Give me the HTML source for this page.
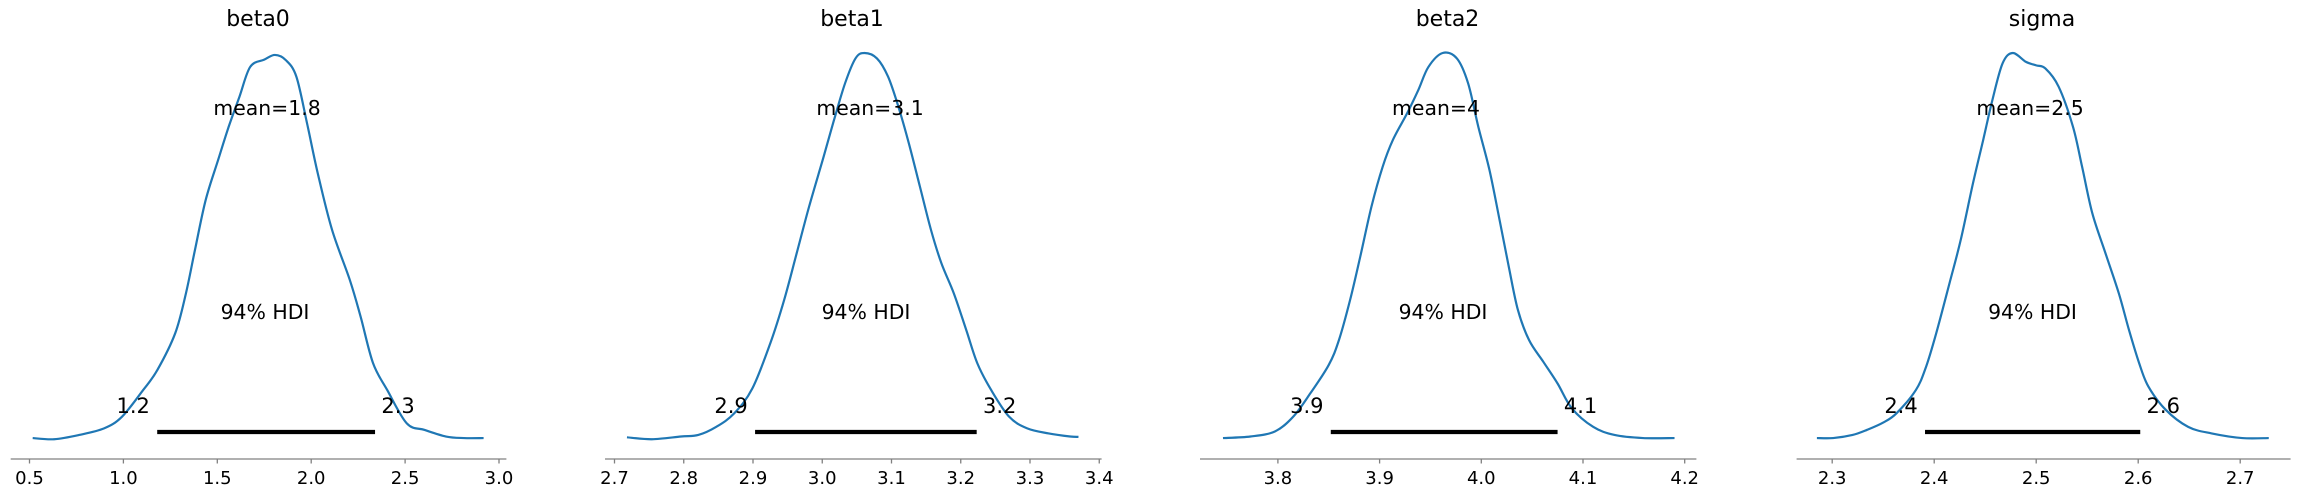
<!DOCTYPE html>
<html><head><meta charset="utf-8"><style>
html,body{margin:0;padding:0;background:#fff;}
svg{display:block;}
text{font-family:"DejaVu Sans","Liberation Sans",sans-serif;fill:#000;}
</style></head><body>
<svg id="chart" width="2301" height="497" viewBox="0 0 2301 497" xmlns="http://www.w3.org/2000/svg"></svg>
<script>
// ---- data ----
const names = ["beta0","beta1","beta2","sigma"];
const meanLabels = ["mean=1.8","mean=3.1","mean=4","mean=2.5"];
const hdiLow = [1.18, 2.903, 3.852, 2.391];
const hdiHigh = [2.34, 3.223, 4.075, 2.602];
const hdiLowLabels = ["1.2","2.9","3.9","2.4"];
const hdiHighLabels = ["2.3","3.2","4.1","2.6"];
const ticks0 = [0.5,1.0,1.5,2.0,2.5,3.0];
const ticks1 = [2.7,2.8,2.9,3.0,3.1,3.2,3.3,3.4];
const ticks2 = [3.8,3.9,4.0,4.1,4.2];
const ticks3 = [2.3,2.4,2.5,2.6,2.7];
const x0 = [0.517,0.631,0.764,0.897,0.992,1.105,1.181,1.276,1.333,1.381,1.438,1.504,1.561,1.618,1.675,1.750,1.807,1.864,1.921,1.978,2.035,2.111,2.206,2.263,2.329,2.405,2.509,2.604,2.718,2.813,2.918];
const d0 = [0.005,0.002,0.013,0.030,0.060,0.129,0.181,0.276,0.379,0.491,0.620,0.723,0.810,0.887,0.964,0.983,0.995,0.982,0.939,0.818,0.689,0.543,0.413,0.319,0.199,0.129,0.043,0.026,0.009,0.005,0.005];
const x1 = [2.718,2.754,2.796,2.821,2.847,2.873,2.899,2.925,2.945,2.963,2.981,3.002,3.017,3.033,3.048,3.061,3.079,3.095,3.110,3.125,3.141,3.157,3.172,3.190,3.208,3.224,3.244,3.270,3.296,3.327,3.358,3.370];
const d1 = [0.007,0.002,0.009,0.013,0.034,0.069,0.133,0.250,0.362,0.482,0.603,0.732,0.827,0.922,0.986,1.000,0.986,0.939,0.861,0.767,0.655,0.543,0.457,0.379,0.284,0.198,0.129,0.060,0.030,0.017,0.009,0.008];
const x2 = [3.746,3.773,3.797,3.815,3.832,3.850,3.860,3.871,3.881,3.892,3.903,3.913,3.927,3.938,3.948,3.962,3.976,3.987,3.997,4.008,4.018,4.027,4.036,4.047,4.061,4.075,4.089,4.110,4.131,4.159,4.190];
const d2 = [0.005,0.009,0.022,0.060,0.121,0.194,0.258,0.362,0.474,0.603,0.706,0.775,0.844,0.904,0.964,1.000,0.986,0.922,0.810,0.698,0.568,0.448,0.336,0.258,0.202,0.146,0.082,0.034,0.013,0.005,0.005];
const x3 = [2.285,2.301,2.320,2.334,2.350,2.363,2.382,2.392,2.402,2.415,2.426,2.438,2.448,2.457,2.467,2.477,2.490,2.500,2.509,2.522,2.536,2.545,2.555,2.568,2.581,2.591,2.601,2.610,2.627,2.649,2.672,2.702,2.728];
const d3 = [0.005,0.005,0.013,0.026,0.045,0.069,0.129,0.189,0.276,0.405,0.517,0.663,0.775,0.878,0.973,1.000,0.977,0.968,0.960,0.913,0.810,0.706,0.586,0.482,0.379,0.284,0.198,0.138,0.078,0.034,0.017,0.005,0.005];

const xs=[x0,x1,x2,x3], ds=[d0,d1,d2,d3], tickSets=[ticks0,ticks1,ticks2,ticks3];
// ---- layout (per panel) ----
const layout = [
  {ref:0.5, refPx:29.5, ppu:187.8, spineL:10.7, spineR:506.4, title:258, mean:267, hdi:265},
  {ref:2.7, refPx:614.5, ppu:692.5, spineL:605, spineR:1101.6, title:852, mean:870, hdi:866},
  {ref:3.8, refPx:1277.9, ppu:1017, spineL:1200, spineR:1696.4, title:1447.5, mean:1436, hdi:1443},
  {ref:2.3, refPx:1832.2, ppu:1020, spineL:1796.6, spineR:2290.6, title:2042, mean:2030, hdi:2032.5}
];
const Y0=440, Y1=53, SPINE=459;
const NS="http://www.w3.org/2000/svg";
const svg=document.getElementById("chart");
function mk(tag,attrs,parent){const e=document.createElementNS(NS,tag);for(const k in attrs)e.setAttribute(k,attrs[k]);(parent||svg).appendChild(e);return e;}
function txt(s,x,y,size,parent){const t=mk("text",{x:x,y:y,"text-anchor":"middle","font-size":size},parent);t.textContent=s;return t;}
function smooth(pts){
  let d="M"+pts[0][0].toFixed(2)+","+pts[0][1].toFixed(2);
  for(let i=0;i<pts.length-1;i++){
    const p0=pts[i-1]||pts[i], p1=pts[i], p2=pts[i+1], p3=pts[i+2]||p2;
    const c1x=p1[0]+(p2[0]-p0[0])/6, c1y=p1[1]+(p2[1]-p0[1])/6;
    const c2x=p2[0]-(p3[0]-p1[0])/6, c2y=p2[1]-(p3[1]-p1[1])/6;
    d+="C"+c1x.toFixed(2)+","+c1y.toFixed(2)+" "+c2x.toFixed(2)+","+c2y.toFixed(2)+" "+p2[0].toFixed(2)+","+p2[1].toFixed(2);
  }
  return d;
}

for(let p=0;p<4;p++){
  const L=layout[p];
  const xScale=v=>L.refPx+(v-L.ref)*L.ppu;
  const yScale=d=>Y0-d*(Y0-Y1);
  const g=mk("g",{});
  
  
  const title=txt(names[p],L.title,26,22,g);
  
  
  const sp=mk("line",{x1:L.spineL,x2:L.spineR,y1:SPINE,y2:SPINE,stroke:"#808080","stroke-width":1.3},g);
  
  
  tickSets[p].forEach(t=>{
    const x=xScale(t);
    const tk=mk("line",{x1:x,x2:x,y1:SPINE,y2:SPINE+4.5,stroke:"#808080","stroke-width":1.3},g);
    
    
    const tl=txt(t.toFixed(1),x,484,18,g);
    
    
  });
  const pts=xs[p].map((v,i)=>[xScale(v),yScale(ds[p][i])]);
  const path=mk("path",{d:smooth(pts),fill:"none",stroke:"#1f77b4","stroke-width":2.2,"stroke-linejoin":"round"},g);
  
  
  const hx1=xScale(hdiLow[p]), hx2=xScale(hdiHigh[p]);
  const hb=mk("line",{x1:hx1,x2:hx2,y1:432,y2:432,stroke:"#000","stroke-width":4.2},g);
  
  
  const lo=txt(hdiLowLabels[p],hx1-24,413,21,g);
  
  
  const hi=txt(hdiHighLabels[p],hx2+23,413,21,g);
  
  
  const mt=txt(meanLabels[p],L.mean,115,20.4,g);
  
  
  const ht=txt("94% HDI",L.hdi,319,20.4,g);
  
  
}
</script>
</body></html>
